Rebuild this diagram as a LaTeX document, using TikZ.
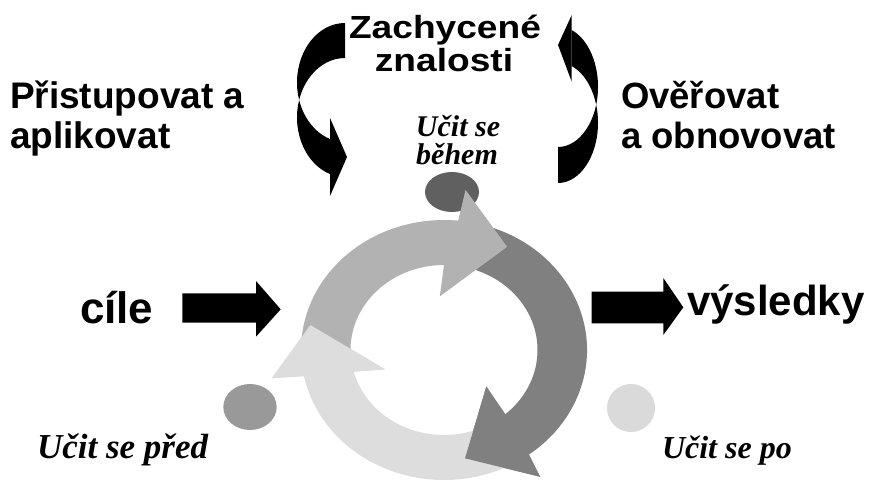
\documentclass[tikz,border=0pt]{standalone}
\usepackage{fontspec}
\setmainfont{Liberation Serif}
\newfontfamily\sansb{Liberation Sans}
\newfontfamily\sanswide[FakeStretch=1.16]{Liberation Sans}
\definecolor{ringA}{HTML}{B2B2B2}
\definecolor{ringB}{HTML}{808080}
\definecolor{ringC}{HTML}{DDDDDD}
\definecolor{ellA}{HTML}{606060}
\definecolor{ellB}{HTML}{999999}
\definecolor{ellC}{HTML}{DADADA}
\tikzset{
  lbl/.style={inner sep=0pt, outer sep=0pt},
  sanslbl/.style={lbl, font=\sansb\bfseries},
  itlbl/.style={lbl, font=\bfseries\itshape},
}
\begin{document}
\begin{tikzpicture}[x=1pt, y=-1pt]
\useasboundingbox (0,0) rectangle (869,479);
\fill[white] (0,0) rectangle (869,479);

% small ellipses
\fill[ellA] (452,192) ellipse [x radius=27, y radius=20];
\fill[ellB] (250,407) ellipse [x radius=26.7, y radius=23];
\fill[ellC] (631,408) ellipse [x radius=24, y radius=24];

% ring arrows
\begin{scope}[shift={(444,350)}, xscale=1.1, yscale=-1]
  \fill[ringB] (75:130) arc[start angle=75, end angle=-53.5, radius=130]
     -- (-55.4:154) -- (-80:110) -- (-43.4:53) -- (-49:85)
     arc[start angle=-49, end angle=75, radius=85] -- cycle;
  \fill[ringC] (-60:130) arc[start angle=-60, end angle=-168.3, radius=130]
     -- (-169.8:159) -- (-191.6:124) -- (-160.2:57) -- (-165.3:85)
     arc[start angle=-165.3, end angle=-60, radius=85] -- cycle;
  \fill[ringA] (185:130) arc[start angle=185, end angle=84, radius=130]
     -- (83:161) -- (61:118) -- (94:54) -- (90:85)
     arc[start angle=90, end angle=185, radius=85] -- cycle;
  \fill[ringB] (-55.4:154) -- (-80:110) -- (-43.4:53) -- cycle;
  \fill[ringC] (-169.8:159) -- (-191.6:124) -- (-160.2:57) -- cycle;
  \fill[ringA] (83:161) -- (61:118) -- (94:54) -- cycle;
\end{scope}

% left curved arrow
\begin{scope}
  \clip (270,0) -- (345,0) -- (345,100) -- (330,100) -- (330,220) -- (270,220) -- cycle;
  \fill[black, even odd rule] (345,82.5) ellipse [x radius=48, y radius=59.5]
                              (345,117.5) ellipse [x radius=48, y radius=59.5];
\end{scope}
\fill[black] (330,118) -- (347,157) -- (330,196) -- cycle;

% right curved arrow
\begin{scope}
  \clip (640,0) -- (571.7,0) -- (571.7,105) -- (558,105) -- (558,220) -- (640,220) -- cycle;
  \fill[black, even odd rule] (558,86.7) ellipse [x radius=40, y radius=60.3]
                              (558,122.7) ellipse [x radius=40, y radius=60.3];
\end{scope}
\fill[black] (571.7,15) -- (558,45) -- (571.7,81.7) -- cycle;

% block arrows
\fill[black] (182.3,293.3) -- (256,293.3) -- (256,281) -- (280.7,309.3) -- (256,336.7)
   -- (256,322.7) -- (182.3,322.7) -- cycle;
\fill[black] (591.7,291.7) -- (663.3,291.7) -- (663.3,278) -- (683.3,307.3) -- (663.3,335)
   -- (663.3,323.3) -- (591.7,323.3) -- cycle;

% texts
\node[lbl, font=\sanswide\bfseries\fontsize{32}{36}\selectfont, anchor=base] (zach1) at (445,38) {Zachycené};
\node[lbl, font=\sanswide\bfseries\fontsize{32}{36}\selectfont, anchor=base] (zach2) at (444,71.7) {znalosti};
\node[itlbl, font=\bfseries\itshape\fontsize{30}{30}\selectfont, anchor=base] (ucit1) at (458,136) {Učit se};
\node[itlbl, font=\bfseries\itshape\fontsize{30}{30}\selectfont, anchor=base] (ucit2) at (457,164) {během};
\node[sanslbl, font=\sansb\bfseries\fontsize{37}{40}\selectfont, anchor=base west] (pris1) at (10,108) {Přistupovat a};
\node[sanslbl, font=\sansb\bfseries\fontsize{37}{40}\selectfont, anchor=base west] (pris2) at (10,148) {aplikovat};
\node[sanslbl, font=\sansb\bfseries\fontsize{36.5}{40}\selectfont, anchor=base west] (over1) at (621,108) {Ověřovat};
\node[sanslbl, font=\sansb\bfseries\fontsize{36.5}{40}\selectfont, anchor=base west] (over2) at (621,148) {a obnovovat};
\node[sanslbl, font=\sansb\bfseries\fontsize{44}{48}\selectfont, anchor=base west] (cile) at (80,323) {cíle};
\node[sanslbl, font=\sansb\bfseries\fontsize{42}{46}\selectfont, anchor=base west] (vysl) at (687,315) {výsledky};
\node[itlbl, font=\bfseries\itshape\fontsize{35}{35}\selectfont, anchor=base west] (pred) at (37,458) {Učit se před};
\node[itlbl, font=\bfseries\itshape\fontsize{32}{32}\selectfont, anchor=base west] (po) at (662,458) {Učit se po};
\end{tikzpicture}
\end{document}
